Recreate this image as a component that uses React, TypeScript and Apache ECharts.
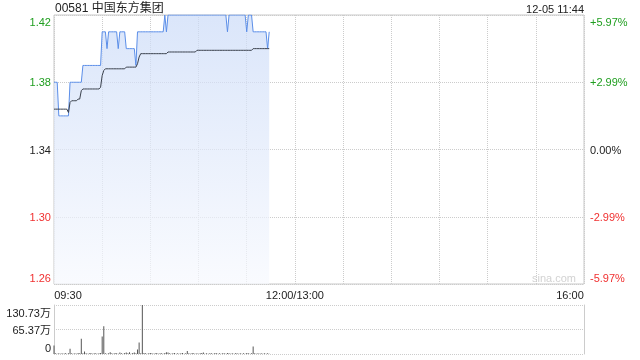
import React, { useEffect, useRef } from "react";
import * as echarts from "echarts";

const TITLE = "00581 中国东方集团";
const STAMP = "12-05 11:44";
const WATERMARK = "sina.com";
const PREV_CLOSE = 1.34;
const TOTAL_MINUTES = 330;
const TIME_LABELS: Record<number, string> = { 0: "09:30", 150: "12:00/13:00", 330: "16:00" };

// one value per minute from 09:30 to 11:44
const PRICE = [
  1.38, 1.38, 1.38, 1.36, 1.36, 1.36, 1.36, 1.36, 1.36, 1.36,
  1.38, 1.38, 1.38, 1.38, 1.38, 1.38, 1.38, 1.38, 1.39, 1.39,
  1.39, 1.39, 1.39, 1.39, 1.39, 1.39, 1.39, 1.39, 1.39, 1.39,
  1.41, 1.41, 1.41, 1.40, 1.41, 1.41, 1.41, 1.41, 1.41, 1.41,
  1.40, 1.41, 1.41, 1.41, 1.41, 1.40, 1.40, 1.40, 1.40, 1.40,
  1.40, 1.39, 1.41, 1.41, 1.41, 1.41, 1.41, 1.41, 1.41, 1.41,
  1.41, 1.41, 1.41, 1.41, 1.41, 1.41, 1.41, 1.41, 1.41, 1.42,
  1.41, 1.42, 1.42, 1.42, 1.42, 1.42, 1.42, 1.42, 1.42, 1.42,
  1.42, 1.42, 1.42, 1.42, 1.42, 1.42, 1.42, 1.42, 1.42, 1.42,
  1.42, 1.42, 1.42, 1.42, 1.42, 1.42, 1.42, 1.42, 1.42, 1.42,
  1.42, 1.42, 1.42, 1.42, 1.42, 1.42, 1.42, 1.42, 1.41, 1.42,
  1.42, 1.42, 1.42, 1.42, 1.42, 1.42, 1.42, 1.42, 1.42, 1.42,
  1.41, 1.42, 1.42, 1.42, 1.41, 1.41, 1.41, 1.41, 1.41, 1.41,
  1.41, 1.41, 1.41, 1.40, 1.41,
];

const AVG_PRICE = [
  1.364, 1.364, 1.364, 1.364, 1.364, 1.364, 1.364, 1.364, 1.364, 1.362,
  1.368, 1.369, 1.369, 1.369, 1.369, 1.370, 1.370, 1.375, 1.376, 1.376,
  1.376, 1.376, 1.376, 1.376, 1.376, 1.376, 1.376, 1.376, 1.376, 1.377,
  1.384, 1.387, 1.388, 1.388, 1.388, 1.388, 1.388, 1.388, 1.388, 1.388,
  1.388, 1.388, 1.388, 1.388, 1.388, 1.389, 1.389, 1.389, 1.389, 1.389,
  1.389, 1.389, 1.391, 1.395, 1.397, 1.397, 1.397, 1.397, 1.397, 1.397,
  1.397, 1.397, 1.397, 1.397, 1.397, 1.397, 1.397, 1.397, 1.397, 1.397,
  1.397, 1.398, 1.398, 1.398, 1.398, 1.398, 1.398, 1.398, 1.398, 1.398,
  1.398, 1.398, 1.398, 1.398, 1.398, 1.398, 1.398, 1.398, 1.398, 1.399,
  1.399, 1.399, 1.399, 1.399, 1.399, 1.399, 1.399, 1.399, 1.399, 1.399,
  1.399, 1.399, 1.399, 1.399, 1.399, 1.399, 1.399, 1.399, 1.399, 1.399,
  1.399, 1.399, 1.399, 1.399, 1.399, 1.399, 1.399, 1.399, 1.399, 1.399,
  1.399, 1.399, 1.399, 1.399, 1.400, 1.400, 1.400, 1.400, 1.400, 1.400,
  1.400, 1.400, 1.400, 1.400, 1.400,
];

// volume in 万 shares per minute
const VOLUME_WAN = [
  23, 2, 1, 2, 1, 2, 1, 3, 1, 2,
  14, 2, 1, 2, 1, 3, 2, 41, 2, 7,
  2, 1, 2, 3, 1, 2, 2, 1, 2, 3,
  47, 74, 2, 1, 2, 5, 2, 1, 3, 2,
  1, 4, 2, 1, 3, 4, 2, 5, 1, 3,
  4, 2, 12, 31, 2, 130.73, 3, 2, 1, 2,
  3, 2, 1, 2, 3, 1, 2, 2, 1, 3,
  5, 4, 2, 1, 2, 3, 1, 2, 1, 2,
  3, 1, 2, 8, 2, 1, 3, 2, 1, 2,
  1, 2, 3, 4, 1, 2, 1, 2, 2, 1,
  2, 3, 1, 2, 1, 2, 2, 1, 3, 2,
  1, 2, 1, 2, 2, 1, 2, 1, 2, 1,
  3, 2, 1, 2, 20, 2, 1, 2, 1, 2,
  1, 2, 1, 2, 1,
];
const VOLUME_AXIS_MAX = 1307340;

const FONT = 'Arial, "Liberation Sans", "Noto Sans CJK SC", sans-serif';
const GREEN = "#1f9e1f";
const RED = "#f03030";
const DARK = "#222222";
const GRID_COLOR = "#cccccc";

const toOffset = (p: number) => Math.round((p - PREV_CLOSE) * 100 * 1000) / 1000;

export default function App() {
  const ref = useRef<HTMLDivElement>(null);

  useEffect(() => {
    if (!ref.current) return;
    const chart = echarts.init(ref.current, null, { renderer: "svg" });

    const labelRich = {
      gt: { color: GREEN, fontSize: 11, fontFamily: FONT, lineHeight: 24, verticalAlign: "bottom" },
      g: { color: GREEN, fontSize: 11, fontFamily: FONT },
      k: { color: DARK, fontSize: 11, fontFamily: FONT },
      r: { color: RED, fontSize: 11, fontFamily: FONT },
      rb: { color: RED, fontSize: 11, fontFamily: FONT, lineHeight: 24, verticalAlign: "top" },
    };
    const styleKey = (v: number) =>
      v >= 8 ? "gt" : v > 0 ? "g" : v === 0 ? "k" : v <= -8 ? "rb" : "r";

    const priceData = PRICE.map((p, i) => [i, toOffset(p)]);
    const avgData = AVG_PRICE.map((p, i) => [i, toOffset(p)]);
    const volData = VOLUME_WAN.map((v, i) => [i, v * 10000]);

    chart.setOption({
      animation: false,
      textStyle: { fontFamily: FONT },
      grid: [
        { left: 54, right: 56, top: 15, height: 269, show: true, borderColor: "#c8c8c8", borderWidth: 1, backgroundColor: "transparent" },
        { left: 54, right: 56, top: 305, height: 49, show: false },
      ],
      xAxis: [
        {
          type: "value", gridIndex: 0, min: 0, max: TOTAL_MINUTES, interval: 30,
          axisLine: { show: false }, axisTick: { show: false },
          splitLine: { show: true, lineStyle: { color: GRID_COLOR, type: "dotted", width: 1 } },
          axisLabel: {
            margin: 5, color: DARK, fontSize: 11, fontFamily: FONT,
            formatter: (v: number) => {
              const t = TIME_LABELS[v];
              if (!t) return "";
              if (v === 0) return `{l|${t}}`;
              if (v === TOTAL_MINUTES) return `{r|${t}}`;
              return `{c|${t}}`;
            },
            rich: {
              l: { color: DARK, fontSize: 11, fontFamily: FONT, padding: [0, 0, 0, 28] },
              r: { color: DARK, fontSize: 11, fontFamily: FONT, padding: [0, 28, 0, 0] },
              c: { color: DARK, fontSize: 11, fontFamily: FONT },
            },
          },
        },
        {
          type: "value", gridIndex: 1, min: 0, max: TOTAL_MINUTES, interval: 30,
          axisLine: { show: false }, axisTick: { show: false }, axisLabel: { show: false },
          splitLine: { show: false },
        },
      ],
      yAxis: [
        {
          type: "value", gridIndex: 0, min: -8, max: 8, interval: 4, position: "left",
          axisLine: { show: false }, axisTick: { show: false },
          splitLine: { show: true, lineStyle: { color: GRID_COLOR, type: "dotted", width: 1 } },
          axisLabel: {
            margin: 3,
            formatter: (v: number) => `{${styleKey(v)}|${(PREV_CLOSE + v / 100).toFixed(2)}}`,
            rich: labelRich,
          },
        },
        {
          type: "value", gridIndex: 0, min: -8, max: 8, interval: 4, position: "right",
          axisLine: { show: false }, axisTick: { show: false }, splitLine: { show: false },
          axisLabel: {
            margin: 6, align: "left",
            formatter: (v: number) => {
              const pct = ((v / 100) / PREV_CLOSE) * 100;
              const s = (v > 0 ? "+" : "") + pct.toFixed(2) + "%";
              return `{${styleKey(v)}|${s}}`;
            },
            rich: labelRich,
          },
        },
        {
          type: "value", gridIndex: 1, min: 0, max: VOLUME_AXIS_MAX, interval: VOLUME_AXIS_MAX / 2,
          position: "left",
          axisLine: { show: true, lineStyle: { color: GRID_COLOR, width: 1 } },
          axisTick: { show: false },
          splitLine: { show: true, lineStyle: { color: GRID_COLOR, type: "dotted", width: 1 } },
          axisLabel: {
            margin: 3,
            formatter: (v: number) => {
              if (v === 0) return "{b|0}";
              const s = (v / 10000).toFixed(2) + "万";
              return v >= VOLUME_AXIS_MAX ? `{t|${s}}` : `{m|${s}}`;
            },
            rich: {
              t: { color: DARK, fontSize: 11, fontFamily: FONT, lineHeight: 26, verticalAlign: "bottom" },
              m: { color: DARK, fontSize: 11, fontFamily: FONT },
              b: { color: DARK, fontSize: 11, fontFamily: FONT, lineHeight: 24, verticalAlign: "top" },
            },
          },
        },
        {
          type: "value", gridIndex: 1, min: 0, max: VOLUME_AXIS_MAX, position: "right",
          axisLine: { show: true, lineStyle: { color: GRID_COLOR, width: 1 } },
          axisTick: { show: false }, axisLabel: { show: false }, splitLine: { show: false },
        },
      ],
      graphic: [
        { type: "text", left: 55, top: 2, style: { text: TITLE, font: `12px ${FONT}`, fill: DARK } },
        { type: "text", right: 56, top: 3, style: { text: STAMP, font: `11px ${FONT}`, fill: DARK } },
        { type: "text", right: 64, top: 272, style: { text: WATERMARK, font: `11px ${FONT}`, fill: "#d2d2d2" } },
      ],
      series: [
        {
          type: "line", xAxisIndex: 0, yAxisIndex: 0, data: priceData, symbol: "none",
          lineStyle: { color: "#5b8ee8", width: 1 },
          areaStyle: {
            origin: "start",
            color: new echarts.graphic.LinearGradient(0, 0, 0, 1, [
              { offset: 0, color: "#cbdbf8" },
              { offset: 1, color: "#f7f9fe" },
            ]),
          },
          z: 3,
        },
        {
          type: "line", xAxisIndex: 0, yAxisIndex: 0, data: avgData, symbol: "none",
          lineStyle: { color: "#3a404c", width: 1 }, z: 4,
        },
        {
          type: "bar", xAxisIndex: 1, yAxisIndex: 2, data: volData, barWidth: 1,
          itemStyle: { color: "#555555" },
        },
      ],
    });

    return () => chart.dispose();
  }, []);

  return <div ref={ref} style={{ position: "fixed", left: 0, top: 0, width: 640, height: 360 }} />;
}
